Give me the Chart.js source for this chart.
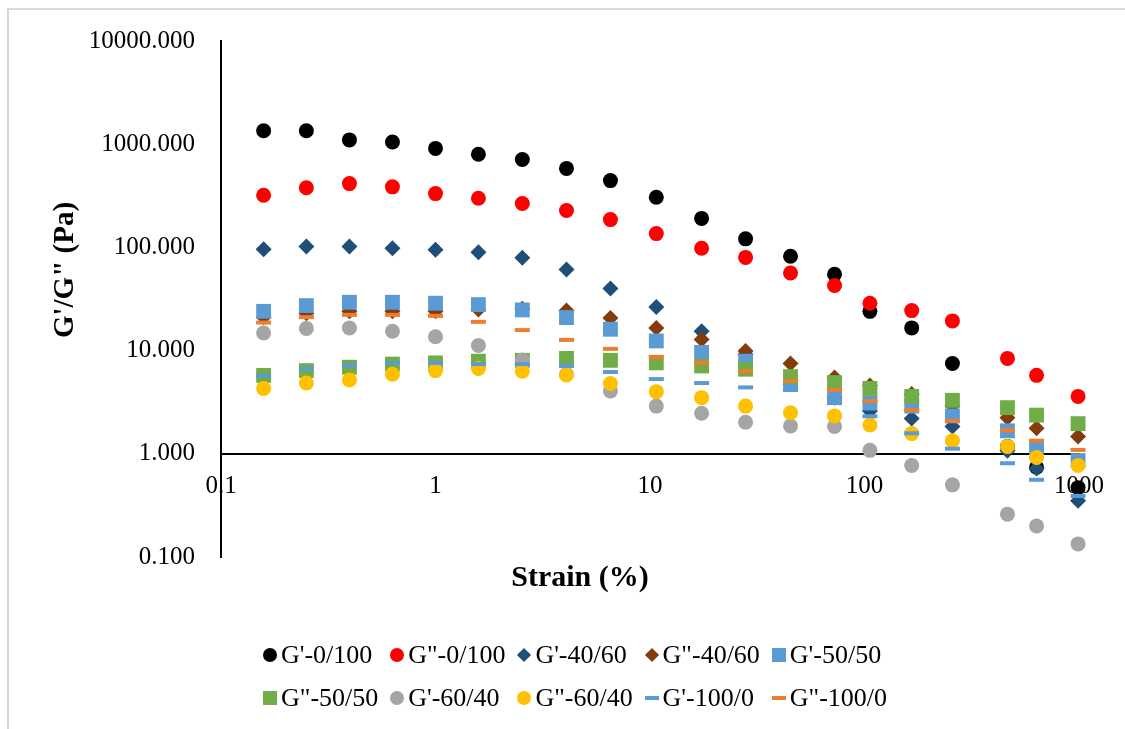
<!DOCTYPE html>
<html>
<head>
<meta charset="utf-8">
<script src="https://cdn.jsdelivr.net/npm/chart.js@4.4.1/dist/chart.umd.min.js"></script>
<style>
  body { margin: 0; background: #fff; }
  #wrap { position: relative; width: 1125px; height: 729px; overflow: hidden; background: #fff;
          font-family: "Liberation Serif", "Times New Roman", serif; }
  #frame { position: absolute; left: 7px; top: 8px; width: 1300px; height: 900px;
           border-left: 2px solid #d9d9d9; border-top: 2px solid #d9d9d9; }
  #chart { position: absolute; left: 0; top: 0; }
  .item { position: absolute; display: flex; align-items: center; height: 30px;
          font-size: 26px; color: #000; white-space: nowrap; }
  .mk { display: inline-block; margin-right: 4px; flex: none; }
</style>
</head>
<body>
<div id="wrap">
  <div id="frame"></div>
  <canvas id="chart" width="1125" height="729"></canvas>
  <div id="legend"></div>
</div>
<script>
// strain (%) - x values
const strain = [0.158, 0.25, 0.397, 0.63, 1.0, 1.585, 2.54, 4.08, 6.54, 10.7,
                17.4, 27.9, 45.2, 72.5, 106, 166, 257, 464, 634, 990];

// moduli (Pa)
const gp_0_100  = [1350, 1350, 1100, 1050, 910, 800, 710, 583, 444, 306, 191, 121, 82, 55, 24, 16.6, 7.5, 1.18, 0.74, 0.47];
const gpp_0_100 = [320, 378, 415, 386, 332, 299, 266, 228, 186, 136, 98, 80, 56.5, 42.7, 28.8, 24.4, 19.4, 8.4, 5.76, 3.6];
const gp_40_60  = [96, 102, 102, 98, 95, 89.5, 79.5, 61, 40, 26.5, 15.4, 9.2, 4.75, 3.5, 2.6, 2.2, 1.84, 1.07, 0.72, 0.35];
const gpp_40_60 = [21, 23, 24, 24, 24, 25, 25.5, 24.5, 20.7, 16.6, 12.8, 9.9, 7.5, 5.5, 4.6, 3.8, 2.9, 2.24, 1.77, 1.47];
const gp_50_50  = [24, 27.3, 29.4, 29.4, 28.8, 27.9, 24.8, 20.9, 16.1, 12.4, 9.6, 7.9, 5.0, 3.8, 3.1, 2.9, 2.33, 1.67, 1.15, 0.86];
const gpp_50_50 = [5.75, 6.4, 6.9, 7.4, 7.6, 7.9, 8.05, 8.4, 8.05, 7.6, 7.1, 6.6, 5.6, 4.9, 4.3, 3.6, 3.3, 2.8, 2.37, 1.96];
const gp_60_40  = [14.8, 16.4, 16.6, 15.4, 13.6, 11.2, 8.1, 5.9, 4.06, 2.9, 2.47, 2.02, 1.86, 1.84, 1.08, 0.77, 0.5, 0.26, 0.2, 0.134];
const gpp_60_40 = [4.3, 4.85, 5.2, 5.9, 6.4, 6.7, 6.3, 5.8, 4.8, 4.0, 3.5, 2.9, 2.5, 2.33, 1.9, 1.57, 1.34, 1.18, 0.92, 0.77];
const gp_100_0  = [5.7, 6.7, 7.2, 7.6, 7.6, 7.4, 7.4, 7.1, 6.2, 5.3, 4.85, 4.4, 4.15, 3.1, 2.31, 1.58, 1.12, 0.81, 0.56, 0.39];
const gpp_100_0 = [18.7, 21.1, 22.2, 22.2, 21.7, 19, 15.8, 12.7, 10.4, 8.7, 7.6, 6.3, 5.1, 4.15, 3.25, 2.64, 2.08, 1.69, 1.34, 1.09];

const seriesNames = ["G'-0/100", 'G"-0/100', "G'-40/60", 'G"-40/60', "G'-50/50",
                     'G"-50/50', "G'-60/40", 'G"-60/40', "G'-100/0", 'G"-100/0'];
const seriesValues = [gp_0_100, gpp_0_100, gp_40_60, gpp_40_60, gp_50_50,
                      gpp_50_50, gp_60_40, gpp_60_40, gp_100_0, gpp_100_0];

const xTicks = [0.1, 1, 10, 100, 1000];
const xTickLabels = ['0.1', '1', '10', '100', '1000'];
const yTicks = [0.1, 1, 10, 100, 1000, 10000];
const yTickLabels = ['0.100', '1.000', '10.000', '100.000', '1000.000', '10000.000'];

const xTitle = 'Strain (%)';
const yTitle = 'G\'/G" (Pa)';

// styles
const colors = ['#000000', '#ff0000', '#1f4e79', '#843c0c', '#5b9bd5',
                '#70ad47', '#a5a5a5', '#ffc000', '#5b9bd5', '#ed7d31'];
const shapes = ['circle', 'circle', 'rectRot', 'rectRot', 'rect',
                'rect', 'circle', 'circle', 'line', 'line'];
const radius = { circle: 7.5, rectRot: 8, rect: 10.5, line: 7.5 };

const datasets = seriesValues.map((vals, i) => ({
  label: seriesNames[i],
  data: vals.map((v, j) => ({ x: strain[j], y: v })),
  showLine: false,
  pointStyle: shapes[i],
  pointRadius: radius[shapes[i]],
  pointHoverRadius: radius[shapes[i]],
  backgroundColor: colors[i],
  borderColor: colors[i],
  borderWidth: shapes[i] === 'line' ? 4 : 0,
  order: seriesValues.length - i,   // later series on top
  clip: false
}));

const font = { family: 'Liberation Serif', size: 25 };

const axisTitles = {
  id: 'axisTitles',
  afterDraw(chart) {
    const ctx = chart.ctx;
    ctx.save();
    ctx.fillStyle = '#000';
    ctx.font = 'bold 30px "Liberation Serif"';
    ctx.textAlign = 'center';
    ctx.textBaseline = 'middle';
    ctx.fillText(xTitle, 580, 578);
    ctx.font = 'bold 29px "Liberation Serif"';
    ctx.translate(66, 270);
    ctx.rotate(-Math.PI / 2);
    ctx.fillText(yTitle, 0, 0);
    ctx.restore();
  }
};

const chart = new Chart(document.getElementById('chart'), {
  type: 'scatter',
  data: { datasets },
  options: {
    responsive: false,
    animation: false,
    layout: { padding: { left: 0, right: 46, top: 39, bottom: 172 } },
    plugins: { legend: { display: false }, tooltip: { enabled: false } },
    scales: {
      x: {
        type: 'logarithmic',
        position: { y: 1 },
        min: 0.1,
        max: 1000,
        grid: { display: false, drawTicks: false },
        border: { display: true, color: '#000', width: 2 },
        afterBuildTicks: s => { s.ticks = xTicks.map(v => ({ value: v })); },
        ticks: {
          autoSkip: false, maxRotation: 0, padding: 18, color: '#000', font,
          callback: (v, i) => xTickLabels[i]
        }
      },
      y: {
        type: 'logarithmic',
        position: 'left',
        min: 0.1,
        max: 10000,
        grid: { display: false, drawTicks: false },
        border: { display: true, color: '#000', width: 2 },
        afterBuildTicks: s => { s.ticks = yTicks.map(v => ({ value: v })); },
        afterFit: s => { s.width = 221; },
        ticks: {
          autoSkip: false, padding: 26, color: '#000', font,
          callback: (v, i) => yTickLabels[i]
        }
      }
    }
  },
  plugins: [axisTitles]
});

// legend, two rows of five like the original
const legend = document.getElementById('legend');
chart.data.datasets.forEach((ds, i) => {
  const row = Math.floor(i / 5), col = i % 5;
  const item = document.createElement('div');
  item.className = 'item';
  item.style.left = (263 + col * 127.2) + 'px';
  item.style.top = (row === 0 ? 640 : 683) + 'px';
  const mk = document.createElement('span');
  mk.className = 'mk';
  const shape = shapes[i];
  if (shape === 'circle') {
    Object.assign(mk.style, { width: '14px', height: '14px', borderRadius: '50%', background: colors[i] });
  } else if (shape === 'rectRot') {
    Object.assign(mk.style, { width: '10px', height: '10px', margin: '0 6px 0 2px', transform: 'rotate(45deg)', background: colors[i] });
  } else if (shape === 'rect') {
    Object.assign(mk.style, { width: '14px', height: '14px', background: colors[i] });
  } else {
    Object.assign(mk.style, { width: '14px', height: '4px', background: colors[i] });
  }
  item.appendChild(mk);
  item.appendChild(document.createTextNode(ds.label));
  legend.appendChild(item);
});
</script>
</body>
</html>
